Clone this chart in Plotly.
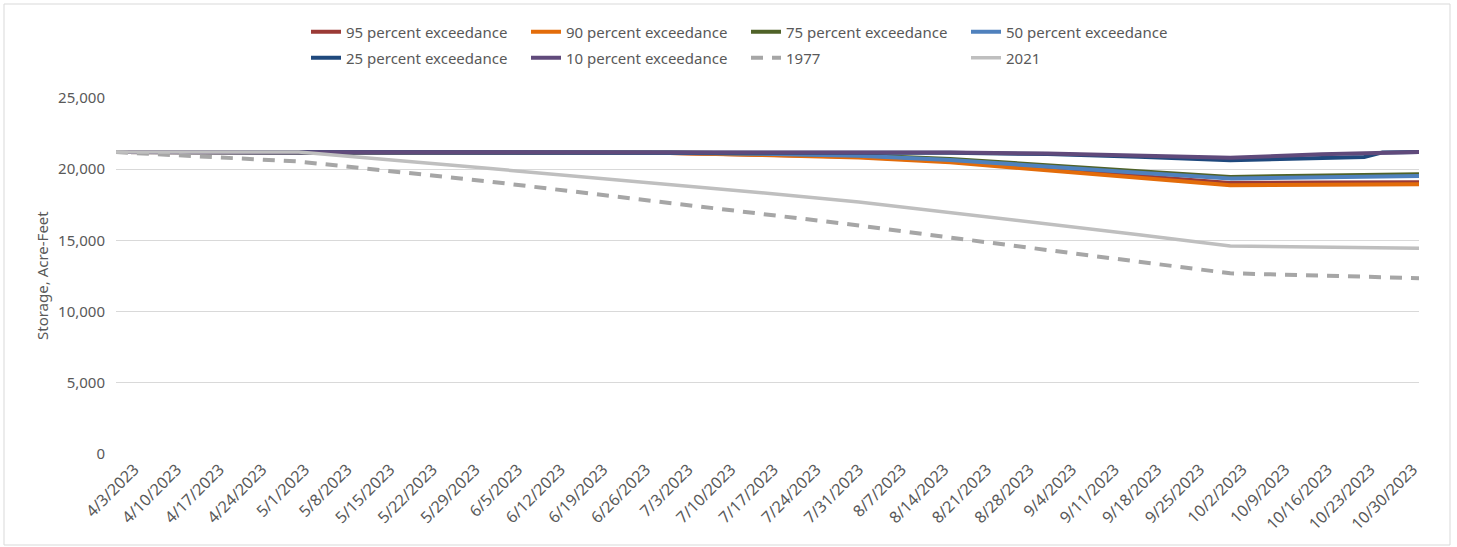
import plotly.graph_objects as go

# ---- data ----
node_dates = ["2023-03-31", "2023-04-30", "2023-05-31", "2023-06-15", "2023-06-30",
              "2023-07-15", "2023-07-31", "2023-08-15", "2023-08-31", "2023-09-15",
              "2023-09-30", "2023-10-15", "2023-10-22", "2023-10-25", "2023-10-31"]

exc95 = [21200, 21200, 21200, 21190, 21140, 21020, 20870, 20540, 20010, 19500, 19040, 19060, 19070, 19075, 19080]
exc90 = [21200, 21200, 21200, 21190, 21130, 21000, 20830, 20480, 19930, 19400, 18870, 18900, 18910, 18930, 18940]
exc75 = [21200, 21200, 21200, 21200, 21170, 21100, 20980, 20720, 20250, 19860, 19460, 19520, 19560, 19600, 19650]
exc50 = [21200, 21200, 21200, 21200, 21160, 21080, 20950, 20650, 20160, 19750, 19340, 19400, 19430, 19480, 19530]
exc25 = [21200, 21200, 21200, 21200, 21200, 21200, 21180, 21150, 21060, 20880, 20620, 20800, 20860, 21180, 21200]
exc10 = [21200, 21200, 21200, 21200, 21200, 21200, 21190, 21170, 21100, 20970, 20800, 21050, 21130, 21180, 21200]
yr1977 = [21200, 20540, 19150, 18400, 17630, 16900, 16050, 15200, 14300, 13500, 12690, 12540, 12470, 12430, 12350]
yr2021 = [21200, 21200, 20060, 19500, 18950, 18350, 17700, 16950, 16200, 15400, 14600, 14530, 14490, 14470, 14440]

tick_dates = ["2023-04-03", "2023-04-10", "2023-04-17", "2023-04-24", "2023-05-01", "2023-05-08",
              "2023-05-15", "2023-05-22", "2023-05-29", "2023-06-05", "2023-06-12", "2023-06-19",
              "2023-06-26", "2023-07-03", "2023-07-10", "2023-07-17", "2023-07-24", "2023-07-31",
              "2023-08-07", "2023-08-14", "2023-08-21", "2023-08-28", "2023-09-04", "2023-09-11",
              "2023-09-18", "2023-09-25", "2023-10-02", "2023-10-09", "2023-10-16", "2023-10-23",
              "2023-10-30"]
tick_labels = ["4/3/2023", "4/10/2023", "4/17/2023", "4/24/2023", "5/1/2023", "5/8/2023",
               "5/15/2023", "5/22/2023", "5/29/2023", "6/5/2023", "6/12/2023", "6/19/2023",
               "6/26/2023", "7/3/2023", "7/10/2023", "7/17/2023", "7/24/2023", "7/31/2023",
               "8/7/2023", "8/14/2023", "8/21/2023", "8/28/2023", "9/4/2023", "9/11/2023",
               "9/18/2023", "9/25/2023", "10/2/2023", "10/9/2023", "10/16/2023", "10/23/2023",
               "10/30/2023"]

series = [
    ("95 percent exceedance", exc95, "#9B3A36", "solid", 4, "legend"),
    ("90 percent exceedance", exc90, "#E36C0A", "solid", 4, "legend"),
    ("75 percent exceedance", exc75, "#4F6228", "solid", 4, "legend"),
    ("50 percent exceedance", exc50, "#4F81BD", "solid", 4, "legend"),
    ("25 percent exceedance", exc25, "#1F497D", "solid", 4, "legend2"),
    ("10 percent exceedance", exc10, "#604A7B", "solid", 4, "legend2"),
    ("1977", yr1977, "#A6A6A6", "12px,9px", 4, "legend2"),
    ("2021", yr2021, "#BFBFBF", "solid", 3.5, "legend2"),
]

FONT = "Noto Sans"
GREY = "#595959"

fig = go.Figure()
for name, vals, col, dash, w, lg in series:
    fig.add_trace(go.Scatter(
        x=node_dates, y=vals, name=name, mode="lines",
        line=dict(color=col, width=w, dash=dash),
        legend=lg,
    ))

W, H = 1457, 547
L, R, T, B = 116, 38, 98, 93
pw = W - L - R
ph = H - T - B

def px_x(px):
    return (px - L) / pw

def px_y(py):
    return (H - B - py) / ph

leg_common = dict(
    orientation="h", xanchor="left", yanchor="middle",
    font=dict(family=FONT, size=15, color=GREY),
    entrywidth=175, entrywidthmode="pixels",
    bgcolor="rgba(0,0,0,0)", itemwidth=30,
)

fig.update_layout(
    width=W, height=H,
    margin=dict(l=L, r=R, t=T, b=B),
    paper_bgcolor="white", plot_bgcolor="white",
    showlegend=True,
    legend=dict(x=px_x(306), y=px_y(32), **leg_common),
    legend2=dict(x=px_x(306), y=px_y(58), **leg_common),
    xaxis=dict(
        type="date",
        range=["2023-03-31", "2023-10-31"],
        tickvals=tick_dates, ticktext=tick_labels,
        tickangle=-45,
        tickfont=dict(family=FONT, size=16, color=GREY),
        showgrid=False, showline=False, zeroline=False,
        ticks="", ticklabelstandoff=2,
    ),
    yaxis=dict(
        range=[0, 25000], dtick=5000, tickformat=",",
        tickfont=dict(family=FONT, size=15, color=GREY),
        showgrid=True, gridcolor="#D9D9D9", gridwidth=1,
        zeroline=False, showline=False, ticks="",
        ticklabelstandoff=10,
    ),
    annotations=[dict(
        text="Storage, Acre-Feet", textangle=-90,
        x=px_x(42), y=0.5, xref="paper", yref="paper",
        xanchor="center", yanchor="middle",
        showarrow=False, font=dict(family=FONT, size=15, color=GREY),
    )],
    shapes=[dict(
        type="rect", xref="paper", yref="paper",
        x0=px_x(4), x1=px_x(1450), y0=px_y(545), y1=px_y(4),
        line=dict(color="#D9D9D9", width=1), fillcolor="rgba(0,0,0,0)",
        layer="below",
    )],
)

fig.write_html("out.html")
